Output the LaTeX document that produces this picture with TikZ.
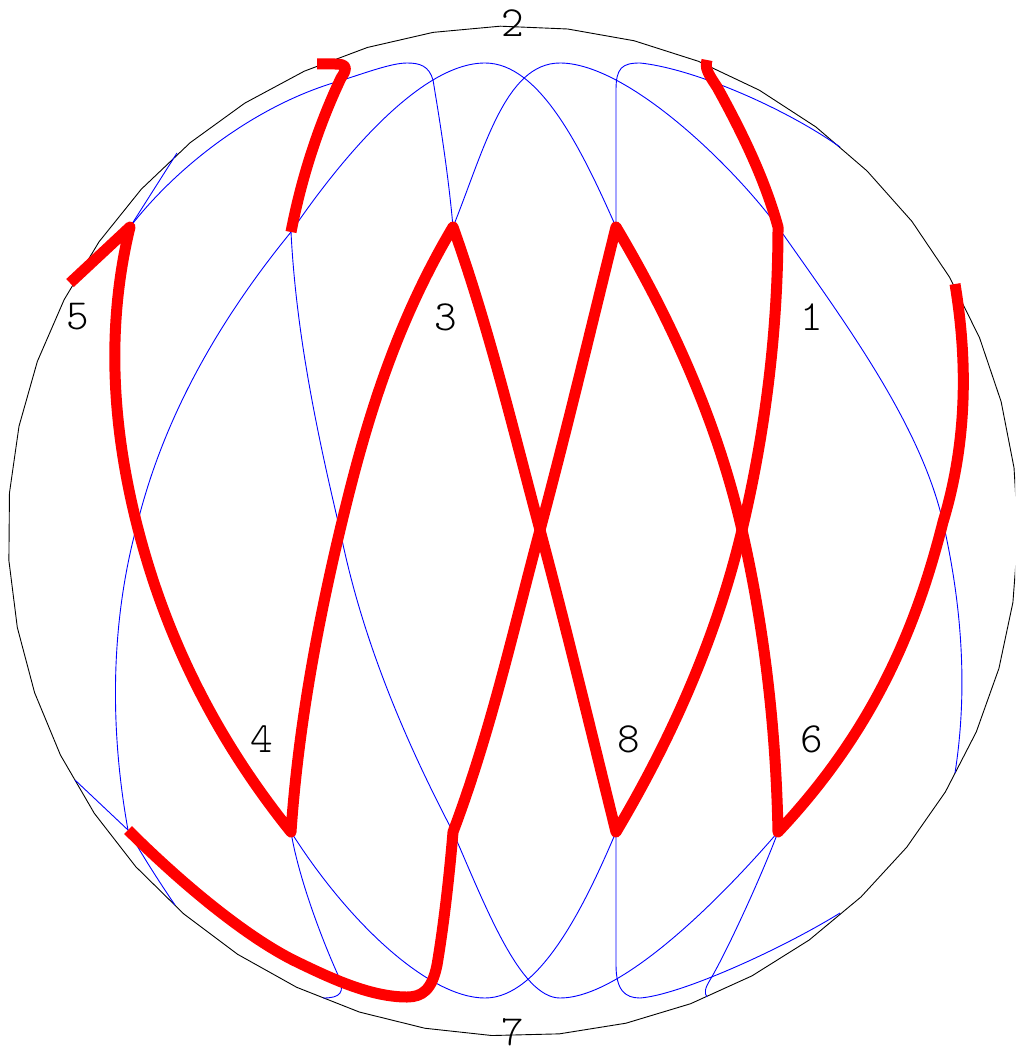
\documentclass[tikz,border=0pt]{standalone}
\usepackage{fontspec}
\newfontfamily\digitfont{Latin Modern Mono Light}
\tikzset{
  rim/.style={black,line width=0.9pt,line join=round},
  thin strand/.style={blue,line width=0.9pt,line join=round},
  thick strand/.style={red,line width=11pt,line join=round,line cap=butt},
  digit/.style={inner sep=0pt,text=black,font=\digitfont\fontsize{43}{43}\selectfont}
}
\begin{document}
\begin{tikzpicture}[x=1pt,y=-1pt]
\useasboundingbox (0,0) rectangle (1015,1049);
\clip (0,0) rectangle (1015,1049);
% crossing points
\coordinate (ta) at (130,227);
\coordinate (tb) at (291,232);
\coordinate (tc) at (453,227);
\coordinate (td) at (616,227);
\coordinate (te) at (778,227);
\coordinate (ba) at (128,830);
\coordinate (bb) at (291,832);
\coordinate (bc) at (453,832);
\coordinate (bd) at (616,832);
\coordinate (be) at (778,832);
\coordinate (ma) at (137,525);
\coordinate (mb) at (340,530);
\coordinate (mc) at (540,530);
\coordinate (md) at (742,530);
\coordinate (me) at (943,522);
% rim
\draw[rim] plot[domain=0:360,samples=48] ({513+505*cos(\x+99.1)},{531-505*sin(\x+99.1)});
% thin strands
\draw[thin strand] (ta) .. controls (178,165) and (255,107) .. (333,83)
  .. controls (360,75) and (390,63) .. (407,63)
  .. controls (420,63) and (429,66) .. (433,80)
  .. controls (438,110) and (448,170) .. (tc);
\draw[thin strand] (ta) -- (177,153);
\draw[thin strand] (tb) .. controls (340,160) and (420,63) .. (485,63)
  .. controls (540,63) and (582,150) .. (td);
\draw[thin strand] (tb) .. controls (211,330) and (161,427) .. (ma)
  .. controls (110,625) and (110,730) .. (ba)
  .. controls (142,855) and (158,880) .. (175,905);
\draw[thin strand] (tc) .. controls (484,150) and (505,63) .. (560,63)
  .. controls (625,63) and (728,160) .. (te)
  .. controls (847,325) and (920,424) .. (me)
  .. controls (962,606) and (968,690) .. (955,773);
\draw[thin strand] (td) -- (616,90) .. controls (616,68) and (622,63) .. (640,63)
  .. controls (690,68) and (780,105) .. (840,147);
\draw[thin strand] (tb) .. controls (296,331) and (316,429) .. (mb)
  .. controls (360,631) and (400,731) .. (bc)
  .. controls (485,905) and (520,998) .. (560,998)
  .. controls (620,998) and (715,905) .. (be);
\draw[thin strand] (bb) .. controls (350,925) and (430,998) .. (485,998)
  .. controls (540,998) and (585,905) .. (bd);
\draw[thin strand] (bb) .. controls (298,875) and (320,935) .. (338,975)
  .. controls (346,993) and (340,998) .. (323,998);
\draw[thin strand] (bd) -- (616,965) .. controls (616,990) and (625,998) .. (640,998)
  .. controls (680,995) and (780,950) .. (840,913);
\draw[thin strand] (be) .. controls (760,880) and (725,955) .. (710,980)
  .. controls (705,988) and (704,993) .. (707,997);
\draw[thin strand] (ba) -- (75,780);
% thick strands
\draw[thick strand] (955,284) .. controls (968,363) and (967,443) .. (me)
  .. controls (917,625) and (875,729) .. (be)
  .. controls (776,731) and (765,631) .. (md)
  .. controls (719,429) and (676,328) .. (td)
  .. controls (591,328) and (567,429) .. (mc)
  .. controls (513,631) and (491,731) .. (bc)
  .. controls (449,880) and (443,930) .. (437,965)
  .. controls (432,990) and (422,997) .. (407,997)
  .. controls (370,997) and (330,978) .. (293,960)
  .. controls (240,933) and (175,877) .. (ba);
\draw[thick strand] (707,60) .. controls (705,68) and (707,72) .. (717,87)
  .. controls (743,134) and (765,180) .. (te)
  .. controls (778,328) and (766,429) .. (md)
  .. controls (718,631) and (676,731) .. (bd)
  .. controls (591,731) and (567,631) .. (mc)
  .. controls (513,429) and (489,328) .. (tc)
  .. controls (393,328) and (364,429) .. (mb)
  .. controls (316,631) and (298,731) .. (bb)
  .. controls (209,730) and (163,627) .. (ma)
  .. controls (112,426) and (106,326) .. (ta)
  -- (70,283);
\draw[thick strand] (tb) .. controls (303,170) and (322,118) .. (341,78)
  .. controls (348,68) and (347,64) .. (335,64) -- (317,64);
% labels
\node[digit] (l1) at (812,317) {1};
\node[digit] (l2) at (513,23) {2};
\node[digit] (l3) at (446,317) {3};
\node[digit] (l4) at (262,739) {4};
\node[digit] (l5) at (78,317) {5};
\node[digit] (l6) at (812,739) {6};
\node[digit] (l7) at (513,1032) {7};
\node[digit] (l8) at (629,739) {8};
\end{tikzpicture}
\end{document}
